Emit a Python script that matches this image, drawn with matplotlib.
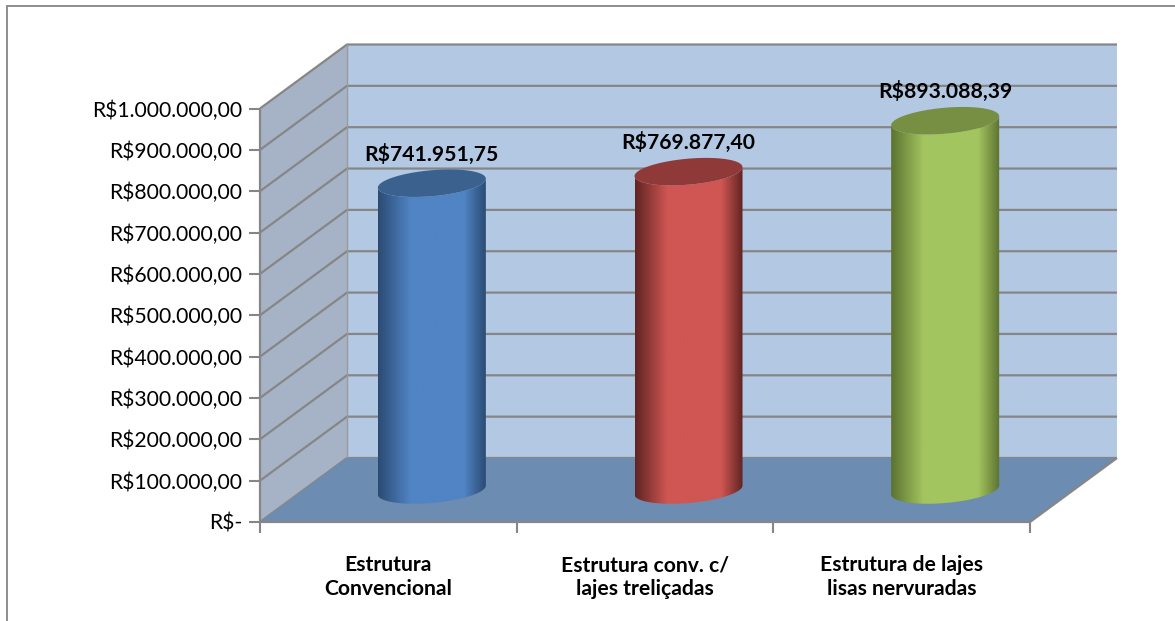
import numpy as np
import matplotlib
matplotlib.use('Agg')
import matplotlib.pyplot as plt
from matplotlib.patches import Polygon, Rectangle
from matplotlib.path import Path
from matplotlib.patches import PathPatch
from matplotlib.colors import LinearSegmentedColormap

plt.rcParams['font.family'] = ['Lato', 'DejaVu Sans']

categories = ['Estrutura\nConvencional', 'Estrutura conv. c/\nlajes treliçadas', 'Estrutura de lajes\nlisas nervuradas']
values = [741951.75, 769877.40, 893088.39]
value_labels = ['R$741.951,75', 'R$769.877,40', 'R$893.088,39']
y_ticks = [0, 100000, 200000, 300000, 400000, 500000, 600000, 700000, 800000, 900000, 1000000]
y_labels = ['R$-', 'R$100.000,00', 'R$200.000,00', 'R$300.000,00', 'R$400.000,00', 'R$500.000,00',
            'R$600.000,00', 'R$700.000,00', 'R$800.000,00', 'R$900.000,00', 'R$1.000.000,00']
edge_colors = ['#2b4b73', '#5f2422', '#5c7230']
mid_colors = ['#5084c4', '#cf5653', '#a3c55f']
top_colors = ['#3b618f', '#8f3a38', '#778f42']

W, H = 1175, 621
fig = plt.figure(figsize=(W / 100, H / 100), dpi=100)

# frame around the chart, open towards the picture edge
fig.add_artist(Rectangle((7 / W, -0.01), 1.1, 1 - 6 / H + 0.01, transform=fig.transFigure,
                         fill=False, ec='#868686', lw=1.3))

# front plane of the oblique 3D box
ax = fig.add_axes([260 / W, 1 - 522 / H, 770 / W, 413.5 / H])
ax.set_xlim(0, 3)
ax.set_ylim(0, 1000000)
ax.patch.set_alpha(0)
for s in ax.spines.values():
    s.set_visible(False)

# depth of the box in data units
dx = 87 / (770 / 3)
dy = 64 / 413.5 * 1000000
ymax = y_ticks[-1]

ax.add_patch(Polygon([(dx, dy), (3 + dx, dy), (3 + dx, ymax + dy), (dx, ymax + dy)],
                     fc='#b3c8e2', ec='none', clip_on=False, zorder=1))
ax.add_patch(Polygon([(0, 0), (dx, dy), (dx, ymax + dy), (0, ymax)],
                     fc='#a6b3c7', ec='none', clip_on=False, zorder=1))
ax.add_patch(Polygon([(0, 0), (3, 0), (3 + dx, dy), (dx, dy)],
                     fc='#6c8cb1', ec='none', clip_on=False, zorder=2))

grid = dict(color='#868686', lw=1.6, clip_on=False, solid_capstyle='butt')
for v in y_ticks:
    ax.plot([0, dx, 3 + dx], [v, v + dy, v + dy], zorder=1.5, **grid)
ax.plot([dx, dx], [dy, ymax + dy], zorder=1.5, color='#9a9a9a', lw=1, clip_on=False)
ax.plot([0, 3, 3 + dx], [0, 0, dy], zorder=3, **grid)
ax.plot([0, 0], [0, ymax], zorder=3, **grid)

ax.set_yticks(y_ticks)
ax.set_yticklabels(y_labels)
ax.set_xticks([0, 1, 2, 3])
ax.set_xticklabels([])
ax.set_xticks([0.5, 1.5, 2.5], labels=categories, minor=True, fontweight='bold', fontsize=15.2, linespacing=1.2)
ax.tick_params(axis='y', length=8, width=1.5, color='#868686', labelsize=15.2, pad=5, labelcolor='black')
ax.tick_params(axis='x', which='major', length=8, width=1.5, color='#868686')
ax.tick_params(axis='x', which='minor', length=0, pad=24)

# cylinder size in data units
half_w = 54 / (770 / 3)
skew = 4.5 / 413.5 * 1000000
minor = 13 / 413.5 * 1000000
t = np.linspace(0, 2 * np.pi, 121)
s = np.linspace(0, 1, 256)[None, :]

for i, v in enumerate(values):
    cx = i + 0.5 + dx / 2
    base = dy / 2
    top = base + v
    ex = cx + half_w * np.cos(t)
    # body outline: lower half of the base ellipse, then the top rim back
    tl = np.linspace(np.pi, 2 * np.pi, 60)
    bx = cx + half_w * np.cos(tl)
    by = base + minor * np.sin(tl) + skew * np.cos(tl)
    tx = bx[::-1]
    ty = top + minor * np.sin(tl[::-1]) + skew * np.cos(tl[::-1])
    body = Polygon(np.column_stack([np.r_[bx, tx], np.r_[by, ty]]), closed=True, fc='none', ec='none',
                   clip_on=False, transform=ax.transData)
    ax.add_patch(body)
    cmap = LinearSegmentedColormap.from_list('cyl', [(0, edge_colors[i]), (0.3, mid_colors[i]), (0.55, mid_colors[i]),
                                                     (0.8, mid_colors[i]), (1, edge_colors[i])])
    im = ax.imshow(s, cmap=cmap, extent=[cx - half_w, cx + half_w, base - 2 * minor, top + 2 * minor],
                   aspect='auto', zorder=4, interpolation='bilinear')
    im.set_clip_path(body)
    ey = top + minor * np.sin(t) + skew * np.cos(t)
    ax.fill(ex, ey, color=top_colors[i], zorder=5, clip_on=False, lw=0)
    ax.text(cx, top + 70000, value_labels[i], ha='center', va='center', fontsize=15.2, fontweight='bold', zorder=6, clip_on=False)

ax.set_xlim(0, 3)
ax.set_ylim(0, 1000000)

fig.savefig('out.png', dpi=100)
